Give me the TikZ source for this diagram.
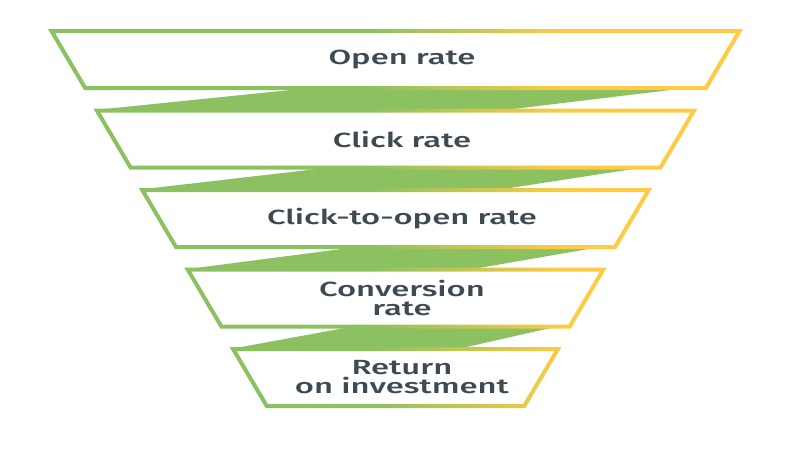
\documentclass[tikz,border=0pt]{standalone}
\usepackage{fontspec}
\usepackage{xcolor}
\usepackage{tikz}
\newfontfamily\funnelfont[FakeStretch=1.6]{Fira Sans Medium}
\definecolor{fgreen}{RGB}{139,193,97}
\definecolor{fyellow}{RGB}{253,203,68}
\definecolor{ftext}{RGB}{62,74,82}
\pgfdeclarehorizontalshading{funnel}{100bp}{color(0bp)=(fgreen); color(48bp)=(fgreen); color(62bp)=(fyellow); color(100bp)=(fyellow)}

\begin{document}
\begin{tikzpicture}[x=1pt,y=-1pt,band/.style={fill=fgreen},stage text/.style={font=\funnelfont\fontsize{20.5}{19}\selectfont,text=ftext,align=center,inner sep=0pt}]
    \useasboundingbox (0,0) rectangle (800,450);
    \foreach \i/\l/\r/\bl/\br in {0/310/687/95/505,1/330/643/140/500,2/357/600/188/473,3/353/557/233/460}
        \path[band] (\l,{88+79.5*\i}) -- (\r,{88+79.5*\i}) -- (\br,{110+79.5*\i}) -- (\bl,{110+79.5*\i}) -- cycle;

    \shade[shading=funnel,even odd rule]
        \foreach \i [evaluate=\i as \h using 347.5-45.4*\i, evaluate=\i as \t using 29+79.5*\i] in {0,...,4} {
            (395.5-\h,\t) -- (395.5+\h,\t) -- (395.5+\h-36,\t+61) -- (395.5-\h+36,\t+61) -- cycle
            (395.5-\h+7,\t+4) -- (395.5+\h-7,\t+4) -- (395.5+\h-38.3,\t+57) -- (395.5-\h+38.3,\t+57) -- cycle
        };

    \foreach \i/\name/\txt in {0/open/Open rate,1/click/Click rate,2/cto/Click-to-open rate,3/conv/{Conversion\\rate},4/roi/{Return\\on investment}}
        \node[stage text] (\name) at (402,{59.5+79.5*\i}) {\txt};
\end{tikzpicture}
\end{document}
